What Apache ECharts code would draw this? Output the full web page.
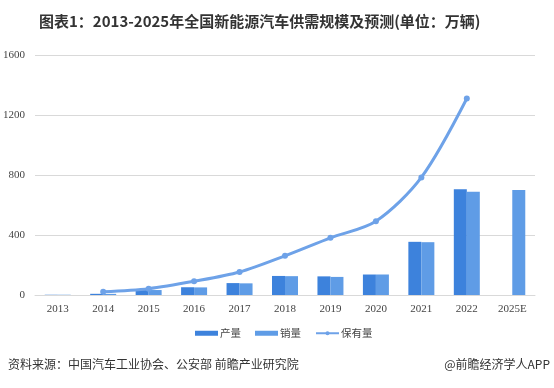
<!DOCTYPE html>
<html>
<head>
<meta charset="utf-8">
<script src="https://cdn.jsdelivr.net/npm/echarts@6/dist/echarts.min.js"></script>
<style>html,body{margin:0;padding:0;background:#fff;}#c{width:554px;height:388px;}</style>
</head>
<body>
<div id="c"></div>
<script>
var categories = ['2013','2014','2015','2016','2017','2018','2019','2020','2021','2022','2025E'];
var production = [1.7, 7.9, 34.0, 51.7, 79.4, 127.0, 124.2, 136.6, 354.5, 705.8, null];
var sales      = [1.8, 7.5, 33.1, 50.7, 77.7, 125.6, 120.6, 136.7, 352.1, 688.7, 700];
var holdings   = [null, 22, 42, 91, 153, 261, 381, 492, 784, 1310, null];
var yTicks = [0, 400, 800, 1200, 1600];

var chart = echarts.init(document.getElementById('c'), null, {renderer:'canvas'});
var serif = '"Liberation Serif", "Times New Roman", serif';
var cjk = '"Noto Sans CJK SC", sans-serif';
chart.setOption({
  animation: false,
  backgroundColor: '#fff',
  title: {
    text: '图表1：2013-2025年全国新能源汽车供需规模及预测(单位：万辆)',
    left: 34, top: 9,
    textStyle: {fontFamily: cjk, fontSize: 15, fontWeight: 'bold', color: '#333'}
  },
  legend: {
    left: 190, top: 323,
    itemWidth: 23, itemHeight: 5, itemGap: 14,
    textStyle: {fontFamily: cjk, fontSize: 10.5, color: '#444', padding: [0,0,0,-3]},
    data: [
      {name: '产量', icon: 'rect'},
      {name: '销量', icon: 'rect'},
      {name: '保有量'}
    ]
  },
  grid: {left: 35, right: 19, top: 55, bottom: 93, containLabel: false},
  xAxis: {
    type: 'category', data: categories,
    axisLine: {lineStyle: {color: '#d9d9d9'}},
    axisTick: {show: false},
    axisLabel: {fontFamily: serif, fontSize: 11, color: '#444', margin: 9}
  },
  yAxis: {
    type: 'value', min: yTicks[0], max: yTicks[yTicks.length-1], interval: 400,
    axisLine: {show: false}, axisTick: {show: false},
    splitLine: {lineStyle: {color: '#d9d9d9'}},
    axisLabel: {fontFamily: serif, fontSize: 11, color: '#444', margin: 10,
      formatter: function (v) { return String(v); }}
  },
  series: [
    {name: '产量', type: 'bar', data: production, barWidth: 13, barGap: '0%',
     itemStyle: {color: '#3d82dc'}},
    {name: '销量', type: 'bar', data: sales, barWidth: 13,
     itemStyle: {color: '#5f9ce6'}},
    {name: '保有量', type: 'line', data: holdings, smooth: 0.3,
     symbol: 'circle', symbolSize: 6,
     lineStyle: {color: '#6ea2e8', width: 3},
     itemStyle: {color: '#6ea2e8'}}
  ],
  graphic: [
    {type: 'text', left: 8, top: 358,
     style: {text: '资料来源：中国汽车工业协会、公安部 前瞻产业研究院', font: '12px "Noto Sans CJK SC", sans-serif', fill: '#333'}},
    {type: 'text', right: 4, top: 358,
     style: {text: '@前瞻经济学人APP', font: '12px "Noto Sans CJK SC", sans-serif', fill: '#333'}}
  ]
});
</script>
</body>
</html>
